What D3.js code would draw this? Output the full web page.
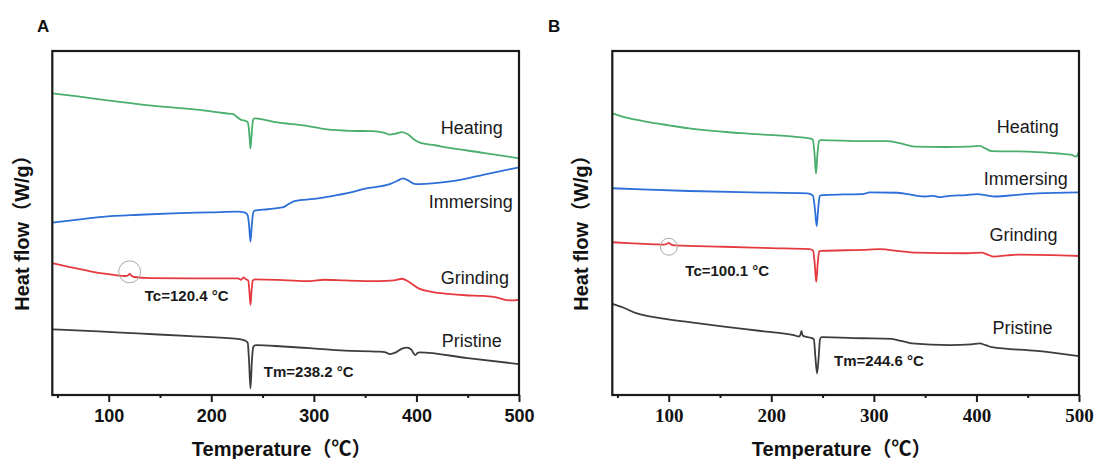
<!DOCTYPE html>
<html>
<head>
<meta charset="utf-8">
<script src="https://cdn.jsdelivr.net/npm/d3@7"></script>
<style>
  html, body { margin: 0; padding: 0; background: #fff; }
  svg { display: block; }
</style>
</head>
<body>
<svg id="chart" width="1096" height="459"></svg>
<script>
// ---- Data: DSC heat-flow traces, [temperature °C, heat flow (a.u., offset)] ----
const seriesNames = ["Heating", "Immersing", "Grinding", "Pristine"];
const seriesColors = ["#4aae6c", "#2d6fd8", "#e53a3f", "#3d3d3d"];

// Panel A
const aHeating = [[45,8.77],[70,8.68],[95,8.58],[142,8.41],[196,8.26],[214,8.19],[222,8.16],[225,8.08],[229,8.00],[234,7.96],[235.5,7.93],[236.6,7.75],[237.5,7.42],[238.2,7.17],[239,7.45],[240,7.82],[241,8.02],[242.5,8.04],[252,8.0],[263,7.93],[290,7.84],[313,7.72],[335,7.68],[357,7.67],[368,7.63],[374,7.57],[380,7.60],[386,7.64],[392,7.57],[398,7.42],[405,7.32],[418,7.26],[431,7.19],[465,7.04],[500,6.88]];
const aImmersing = [[45,5.01],[70,5.10],[94,5.18],[130,5.24],[162,5.28],[200,5.31],[226,5.33],[233,5.30],[235.5,5.22],[236.8,4.95],[238.2,4.46],[239.4,4.9],[240.6,5.25],[242,5.36],[255,5.40],[266,5.44],[271,5.47],[276,5.56],[282,5.64],[300,5.70],[313,5.76],[335,5.88],[350,6.00],[374,6.13],[381,6.22],[387,6.30],[393,6.22],[398,6.14],[403,6.13],[431,6.20],[465,6.40],[500,6.62]];
const aGrinding = [[45,3.83],[62,3.72],[78,3.62],[92,3.54],[108,3.48],[116,3.46],[118.5,3.47],[120.4,3.52],[122.5,3.46],[125,3.43],[140,3.40],[180,3.39],[226,3.39],[229,3.35],[231.5,3.42],[233.5,3.37],[236,3.33],[237.2,3.0],[238.2,2.62],[239.2,3.0],[240.5,3.33],[243,3.36],[270,3.34],[296,3.31],[310,3.35],[330,3.33],[363,3.31],[378,3.33],[386,3.38],[392,3.30],[402,3.10],[415,3.00],[431,2.94],[448,2.90],[465,2.88],[478,2.84],[488,2.76],[496,2.75],[500,2.77]];
const aPristine = [[45,1.91],[90,1.85],[128,1.79],[180,1.71],[226,1.63],[233,1.58],[235.5,1.52],[236.8,1.0],[238.2,0.19],[239.6,1.0],[241,1.40],[243.5,1.45],[270,1.41],[296,1.36],[330,1.29],[363,1.26],[370,1.24],[374,1.19],[380,1.24],[386,1.35],[391,1.38],[395,1.32],[397,1.22],[399,1.16],[401,1.22],[403,1.24],[450,1.07],[500,0.90]];

// Panel B
const bHeating = [[45,8.19],[62,8.04],[79,7.94],[100,7.84],[120,7.75],[171,7.61],[222,7.51],[237,7.46],[240.5,7.42],[242.2,7.0],[243.6,6.44],[245,7.0],[246.5,7.38],[248.5,7.41],[290,7.38],[313,7.38],[325,7.32],[340,7.22],[370,7.21],[391,7.22],[403,7.24],[409,7.16],[415,7.09],[440,7.08],[459,7.06],[480,7.02],[493,6.98],[497,6.93],[500,7.07]];
const bImmersing = [[45,6.01],[80,5.97],[120,5.93],[180,5.89],[235,5.86],[240.5,5.80],[242.6,5.4],[244.2,4.91],[245.7,5.4],[247.2,5.78],[249,5.81],[270,5.83],[289,5.84],[296,5.89],[323,5.88],[340,5.80],[350,5.77],[358,5.79],[365,5.75],[374,5.79],[390,5.81],[401,5.84],[410,5.80],[418,5.77],[440,5.82],[459,5.86],[500,5.89]];
const bGrinding = [[45,4.44],[65,4.41],[86,4.38],[95,4.37],[98,4.39],[100.1,4.42],[102,4.38],[106,4.35],[154,4.31],[200,4.27],[237,4.24],[240.7,4.20],[242.4,3.8],[243.8,3.29],[245.2,3.8],[246.7,4.17],[248.5,4.19],[289,4.22],[306,4.24],[325,4.18],[340,4.14],[391,4.12],[405,4.14],[411,4.08],[417,4.02],[430,4.06],[442,4.08],[500,4.04]];
const bPristine = [[45,2.65],[55,2.55],[69,2.37],[93,2.23],[120,2.12],[154,1.99],[190,1.86],[222,1.74],[227,1.70],[228.5,1.76],[229.4,1.86],[230.3,1.76],[231.5,1.71],[239,1.66],[241.5,1.62],[243,1.1],[244.6,0.63],[246.2,1.1],[247.5,1.62],[249,1.68],[289,1.65],[317,1.63],[327,1.57],[337,1.50],[374,1.45],[395,1.47],[403,1.50],[409,1.45],[415,1.39],[459,1.28],[500,1.13]];

// Axis ticks
const majorTicks = [100, 200, 300, 400, 500];
const minorTicks = [50, 150, 250, 350, 450];
const xDomain = [45, 500];
const yDomain = [0, 10];

// Annotations: crystallisation / melting temperatures
const tcValues = [120.4, 100.1];
const tmValues = [238.2, 244.6];

// ---- Layout ----
const svg = d3.select("#chart");
const sansFont = "'Liberation Sans', Arial, 'Noto Sans CJK SC', sans-serif";
const serifFont = "'Liberation Serif', 'Times New Roman', serif";

const panels = [
  {
    letter: "A", left: 52.3, right: 519, letterX: 37,
    series: [aHeating, aImmersing, aGrinding, aPristine],
    tickFont: sansFont, tickSize: 18, tickPad: 7,
    tc: tcValues[0], tm: tmValues[0],
    circle: { v: 3.58, r: 11 },
    labelPos: [[454, 7.76], [453, 5.61], [457, 3.40], [454, 1.57]],
    tcPos: [176, 2.88], tmPos: [295, 0.67],
    yTitleX: 21.5
  },
  {
    letter: "B", left: 612.3, right: 1079, letterX: 548,
    series: [bHeating, bImmersing, bGrinding, bPristine],
    tickFont: serifFont, tickSize: 19, tickPad: 7,
    tc: tcValues[1], tm: tmValues[1],
    circle: { v: 4.31, r: 8.5 },
    labelPos: [[450, 7.79], [448, 6.28], [446, 4.65], [445, 1.95]],
    tcPos: [157, 3.60], tmPos: [305, 0.99],
    yTitleX: 581
  }
];
const plotTop = 51, plotBottom = 395;

panels.forEach(p => {
  const x = d3.scaleLinear().domain(xDomain).range([p.left, p.right]);
  const y = d3.scaleLinear().domain(yDomain).range([plotBottom, plotTop]);
  const g = svg.append("g");

  // traces
  const line = d3.line()
    .x(d => x(d[0]))
    .y(d => y(d[1]))
    .curve(d3.curveMonotoneX);

  p.series.forEach((s, i) => {
    g.append("path")
      .datum(s)
      .attr("d", line)
      .attr("fill", "none")
      .attr("stroke", seriesColors[i])
      .attr("stroke-width", 1.8)
      .attr("stroke-linejoin", "round");
  });

  // Tc marker circle
  g.append("circle")
    .attr("cx", x(p.tc))
    .attr("cy", y(p.circle.v))
    .attr("r", p.circle.r)
    .attr("fill", "none")
    .attr("stroke", "#a8a8a8")
    .attr("stroke-width", 1);

  // bottom axis: major ticks with labels
  const axis = g.append("g")
    .attr("transform", `translate(0,${plotBottom})`)
    .call(d3.axisBottom(x).tickValues(majorTicks).tickSize(7).tickPadding(p.tickPad).tickFormat(d3.format("d")));
  axis.select(".domain").remove();
  axis.selectAll(".tick line").attr("stroke", "#1a1a1a").attr("stroke-width", 2);
  axis.selectAll(".tick text")
    .attr("font-family", p.tickFont)
    .attr("font-size", p.tickSize)
    .attr("font-weight", "bold")
    .attr("fill", "#111");

  // minor ticks
  const minor = g.append("g")
    .attr("transform", `translate(0,${plotBottom})`)
    .call(d3.axisBottom(x).tickValues(minorTicks).tickSize(3).tickFormat(""));
  minor.select(".domain").remove();
  minor.selectAll(".tick line").attr("stroke", "#1a1a1a").attr("stroke-width", 2);

  // frame
  g.append("rect")
    .attr("x", p.left)
    .attr("y", plotTop)
    .attr("width", p.right - p.left)
    .attr("height", plotBottom - plotTop)
    .attr("fill", "none")
    .attr("stroke", "#1a1a1a")
    .attr("stroke-width", 2.2);

  // series labels
  seriesNames.forEach((name, i) => {
    g.append("text")
      .attr("x", x(p.labelPos[i][0]))
      .attr("y", y(p.labelPos[i][1]))
      .attr("dy", "0.35em")
      .attr("text-anchor", "middle")
      .attr("font-family", sansFont)
      .attr("font-size", 18)
      .attr("fill", "#1a1a1a")
      .text(name);
  });

  // Tc / Tm annotations
  g.append("text")
    .attr("x", x(p.tcPos[0]))
    .attr("y", y(p.tcPos[1]))
    .attr("dy", "0.35em")
    .attr("text-anchor", "middle")
    .attr("font-family", sansFont)
    .attr("font-size", 15)
    .attr("font-weight", "bold")
    .attr("fill", "#1a1a1a")
    .text(`Tc=${p.tc} °C`);
  g.append("text")
    .attr("x", x(p.tmPos[0]))
    .attr("y", y(p.tmPos[1]))
    .attr("dy", "0.35em")
    .attr("text-anchor", "middle")
    .attr("font-family", sansFont)
    .attr("font-size", 15)
    .attr("font-weight", "bold")
    .attr("fill", "#1a1a1a")
    .text(`Tm=${p.tm} °C`);

  // axis titles
  g.append("text")
    .attr("x", (p.left + p.right) / 2 - 4)
    .attr("y", 449)
    .attr("dy", "0.35em")
    .attr("text-anchor", "middle")
    .attr("font-family", sansFont)
    .attr("font-size", 20)
    .attr("font-weight", "bold")
    .attr("fill", "#111")
    .text("Temperature（℃）");

  g.append("text")
    .attr("transform", `translate(${p.yTitleX},${228}) rotate(-90)`)
    .attr("dy", "0.35em")
    .attr("text-anchor", "middle")
    .attr("font-family", sansFont)
    .attr("font-size", 20)
    .attr("font-weight", "bold")
    .attr("fill", "#111")
    .text("Heat flow（W/g）");

  // panel letter
  g.append("text")
    .attr("x", p.letterX)
    .attr("y", 32)
    .attr("font-family", sansFont)
    .attr("font-size", 17)
    .attr("font-weight", "bold")
    .attr("fill", "#111")
    .text(p.letter);
});
</script>
</body>
</html>
